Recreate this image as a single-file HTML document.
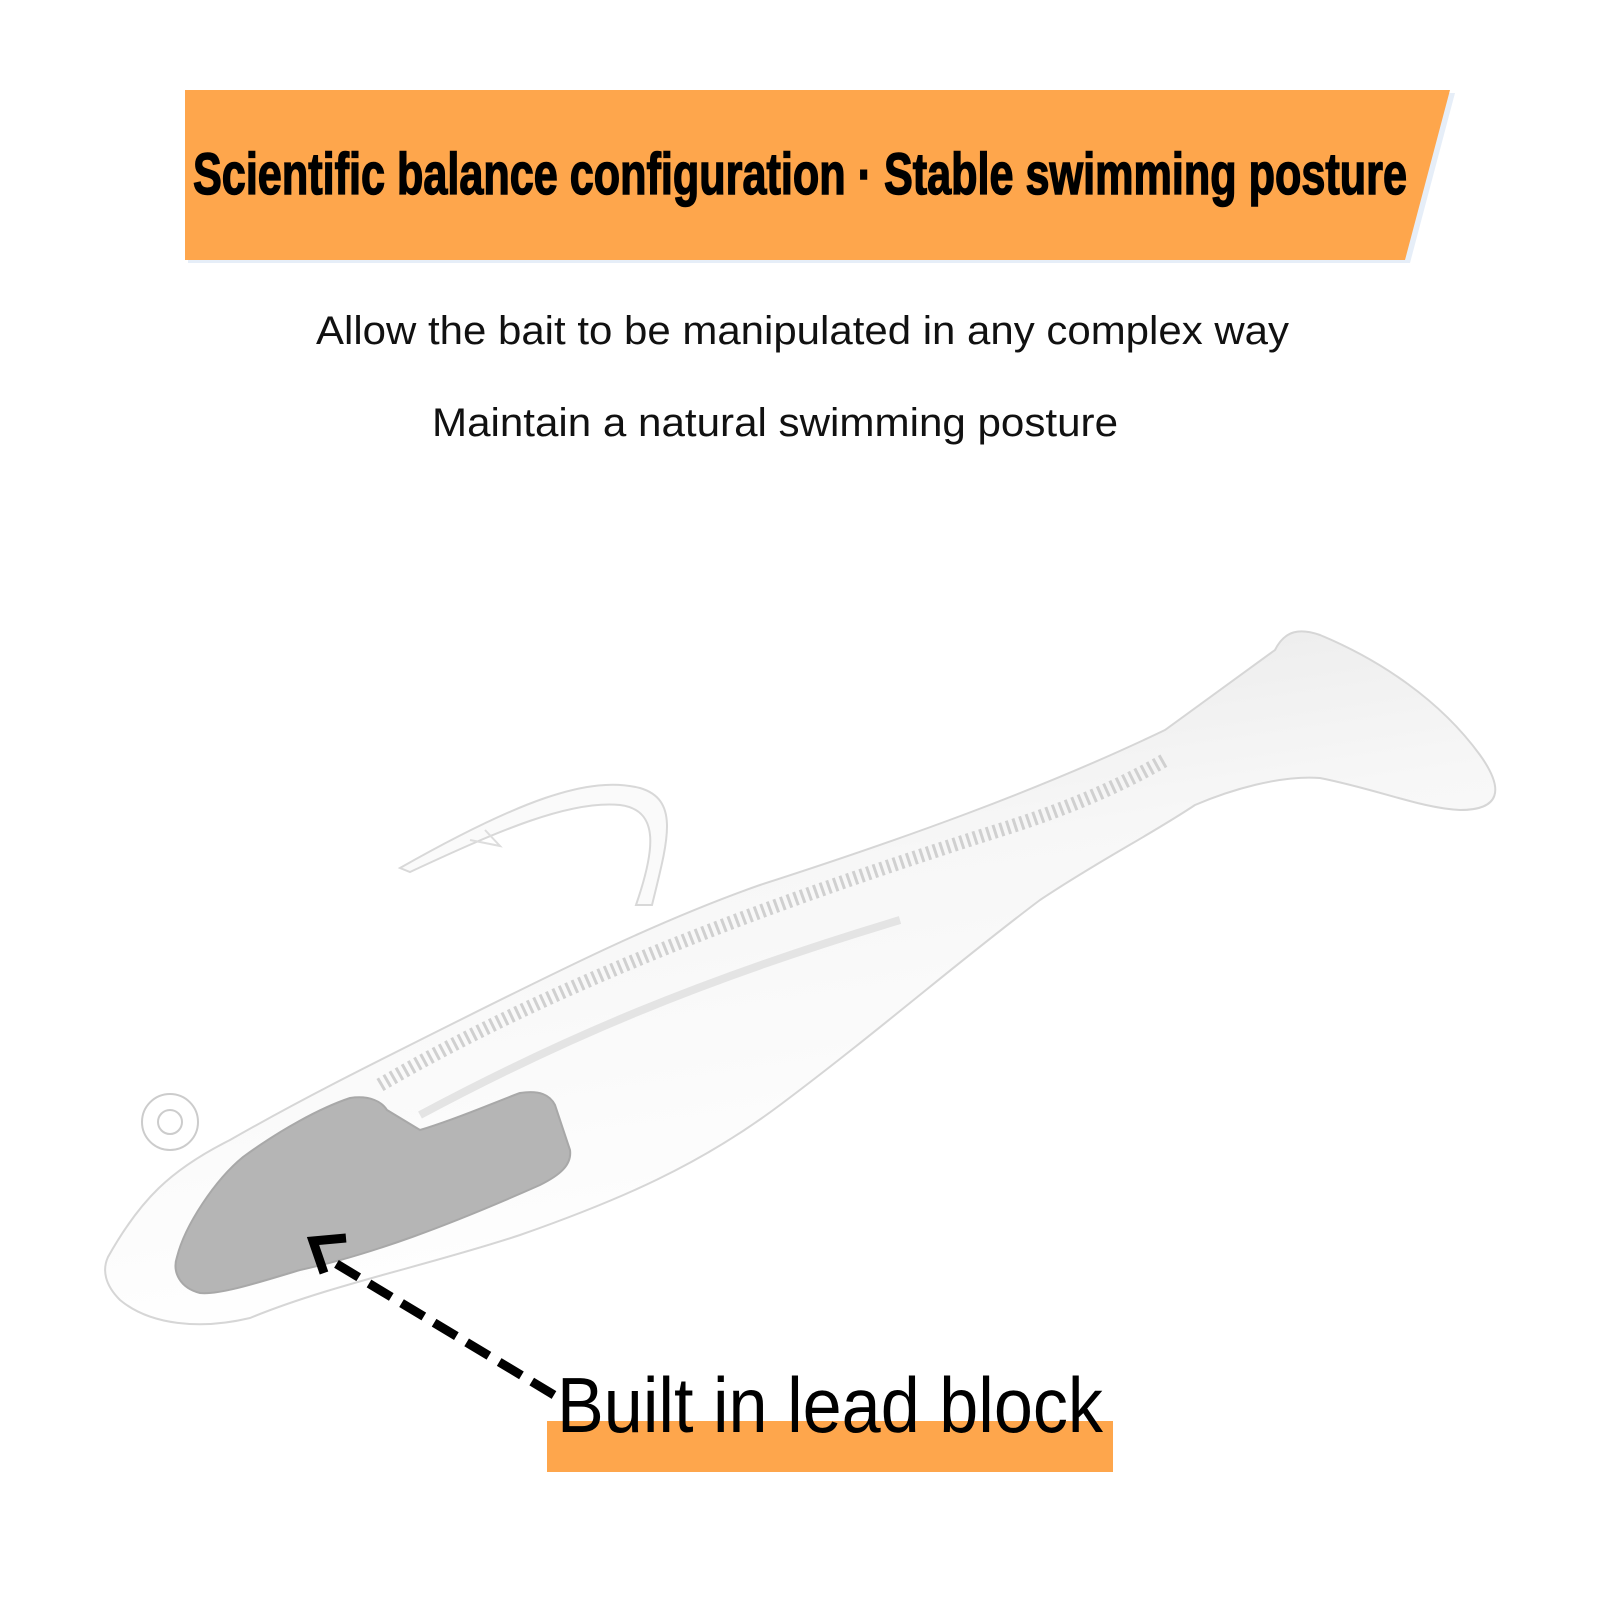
<!DOCTYPE html>
<html><head><meta charset="utf-8"><style>
html,body{margin:0;padding:0;background:#fff;width:1600px;height:1600px;overflow:hidden}
</style></head><body>
<svg width="1600" height="1600" viewBox="0 0 1600 1600" xmlns="http://www.w3.org/2000/svg">
<defs>
<linearGradient id="fb" x1="0" y1="0" x2="0.3" y2="1">
<stop offset="0" stop-color="#e4e4e4"/><stop offset="0.45" stop-color="#f7f7f7"/><stop offset="1" stop-color="#ffffff"/>
</linearGradient>
</defs>
<polygon points="188,94 1455,93 1410,263 188,263" fill="#e6eef8"/>
<polygon points="185,90 1450,90 1405,260 185,260" fill="#fea64c"/>
<text x="193" y="194" font-family="'Liberation Sans Narrow','Liberation Sans',sans-serif" font-weight="bold" font-size="58" textLength="1214" lengthAdjust="spacingAndGlyphs" fill="#000" stroke="#000" stroke-width="1.5">Scientific balance configuration · Stable swimming posture</text>
<text x="316" y="344" font-family="'Liberation Sans',sans-serif" font-size="40" textLength="973" lengthAdjust="spacingAndGlyphs" fill="#111">Allow the bait to be manipulated in any complex way</text>
<text x="432" y="436" font-family="'Liberation Sans',sans-serif" font-size="40" textLength="686" lengthAdjust="spacingAndGlyphs" fill="#111">Maintain a natural swimming posture</text>

<!-- hook -->
<path d="M652,905 C668,840 680,800 640,788 C590,775 520,800 400,868 L410,872 C500,830 570,800 620,805 C660,810 655,850 636,905 Z" fill="#fafafa" stroke="#d8d8d8" stroke-width="2"/>
<path d="M470,840 L500,846 L485,830" fill="none" stroke="#ddd" stroke-width="2"/>
<!-- fish body -->
<path d="M108,1257 C140,1200 170,1170 230,1140 C300,1100 360,1070 450,1025 C560,970 660,920 760,885 C900,840 1040,790 1165,730 L1275,650 C1285,630 1300,628 1320,635 C1380,660 1440,700 1480,755 C1505,790 1500,810 1460,810 C1420,808 1380,790 1320,778 C1280,775 1230,790 1195,805 C1150,835 1100,860 1040,900 C960,960 880,1030 780,1105 C700,1165 620,1200 520,1235 C430,1265 330,1285 250,1318 C200,1330 150,1325 120,1300 C105,1285 102,1270 108,1257 Z" fill="url(#fb)" stroke="#d6d6d6" stroke-width="2"/>
<!-- spine texture -->
<path d="M380,1085 C560,980 780,900 1000,830 C1080,805 1130,780 1165,760" fill="none" stroke="#d0d0d0" stroke-width="14" stroke-dasharray="3 4"/>
<path d="M420,1115 C560,1040 700,980 900,920" fill="none" stroke="#e4e4e4" stroke-width="8"/>
<!-- eye ring -->
<circle cx="170" cy="1122" r="28" fill="#fff" stroke="#ccc" stroke-width="2"/>
<circle cx="170" cy="1122" r="12" fill="#fff" stroke="#ccc" stroke-width="2"/>
<!-- lead block -->
<path d="M177,1257 C185,1225 215,1180 243,1157 C280,1130 320,1108 350,1098 C370,1095 382,1102 387,1110 L420,1130 C460,1118 500,1100 520,1093 C540,1090 550,1095 555,1105 L570,1150 C572,1165 560,1175 540,1185 C450,1225 370,1255 300,1270 C260,1282 220,1295 200,1293 C180,1288 172,1272 177,1257 Z" fill="#b5b5b5" stroke="#a8a8a8" stroke-width="2"/>
<!-- arrow -->
<line x1="554" y1="1395" x2="330" y2="1260" stroke="#000" stroke-width="9" stroke-dasharray="26 12"/>
<polyline points="346,1238 313,1241 324,1273" fill="none" stroke="#000" stroke-width="9"/>
<!-- label -->
<rect x="547" y="1421" width="566" height="51" fill="#fea64c"/>
<text x="557" y="1432" font-family="'Liberation Sans',sans-serif" font-size="78" textLength="546" lengthAdjust="spacingAndGlyphs" fill="#000">Built in lead block</text>
</svg>
</body></html>
